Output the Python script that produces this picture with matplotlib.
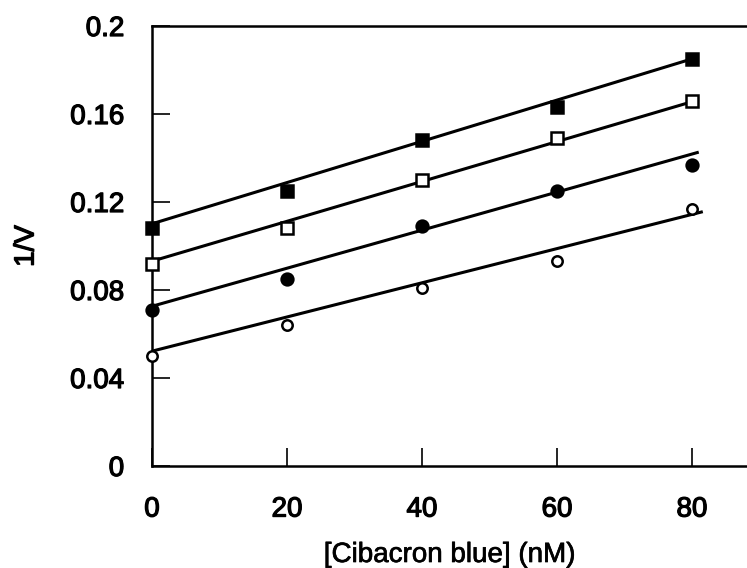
import numpy as np
import matplotlib
matplotlib.use('Agg')
import matplotlib.pyplot as plt
import matplotlib.patheffects as pe

plt.rcParams['font.family'] = ['Liberation Sans', 'DejaVu Sans']

# data
conc = [0, 20, 40, 60, 80]
filled_sq = [0.108, 0.125, 0.148, 0.163, 0.185]
open_sq = [0.092, 0.108, 0.130, 0.149, 0.166]
filled_circ = [0.071, 0.085, 0.109, 0.125, 0.137]
open_circ = [0.050, 0.064, 0.081, 0.093, 0.117]

# fitted lines (intercept, slope, last x) as drawn
fit_intercept = [0.1101, 0.0931, 0.0726, 0.0522]
fit_slope = [0.000937, 0.000906, 0.000865, 0.000777]
fit_end = [80.7, 80.5, 81.0, 81.6]

x_ticks = [0, 20, 40, 60, 80]
y_ticks = [0, 0.04, 0.08, 0.12, 0.16, 0.2]
y_ticklabels = ['0', '0.04', '0.08', '0.12', '0.16', '0.2']

fig = plt.figure(figsize=(7.47, 5.68), dpi=100)
ax = fig.add_axes([152 / 747, 102 / 568, 595 / 747, 440 / 568])

series = [filled_sq, open_sq, filled_circ, open_circ]
markers = ['s', 's', 'o', 'o']
faces = ['black', 'white', 'black', 'white']
sizes = [9, 8, 8.5, 7.5]

for i in range(4):
    xs = np.array([0, fit_end[i]])
    ax.plot(xs, fit_intercept[i] + fit_slope[i] * xs, color='black', lw=2.2,
            solid_capstyle='butt', clip_on=False, zorder=2)
    ax.plot(conc, series[i], linestyle='none', marker=markers[i], markersize=sizes[i],
            markerfacecolor=faces[i], markeredgecolor='black', markeredgewidth=1.8,
            clip_on=False, zorder=3)

ax.set_xlim(0, 595 / 6.75)
ax.set_ylim(0, 0.2)
ax.set_xticks(x_ticks)
ax.set_yticks(y_ticks)
ax.set_yticklabels(y_ticklabels)

ax.spines['right'].set_visible(False)
for s in ['left', 'bottom', 'top']:
    ax.spines[s].set_linewidth(1.8)

ax.tick_params(direction='in', length=13, width=1.2, labelsize=20, pad=22)
ax.tick_params(axis='y', pad=20)

ax.set_xlabel('[Cibacron blue] (nM)', fontsize=20, labelpad=14)
ax.set_ylabel('1/V', fontsize=20, labelpad=22)

# scanned print looks a bit heavier than regular weight
thick = [pe.withStroke(linewidth=0.9, foreground='black')]
for t in ax.get_xticklabels() + ax.get_yticklabels() + [ax.yaxis.label]:
    t.set_path_effects(thick)
ax.xaxis.label.set_path_effects([pe.withStroke(linewidth=0.5, foreground='black')])

fig.savefig('out.png', dpi=100)
